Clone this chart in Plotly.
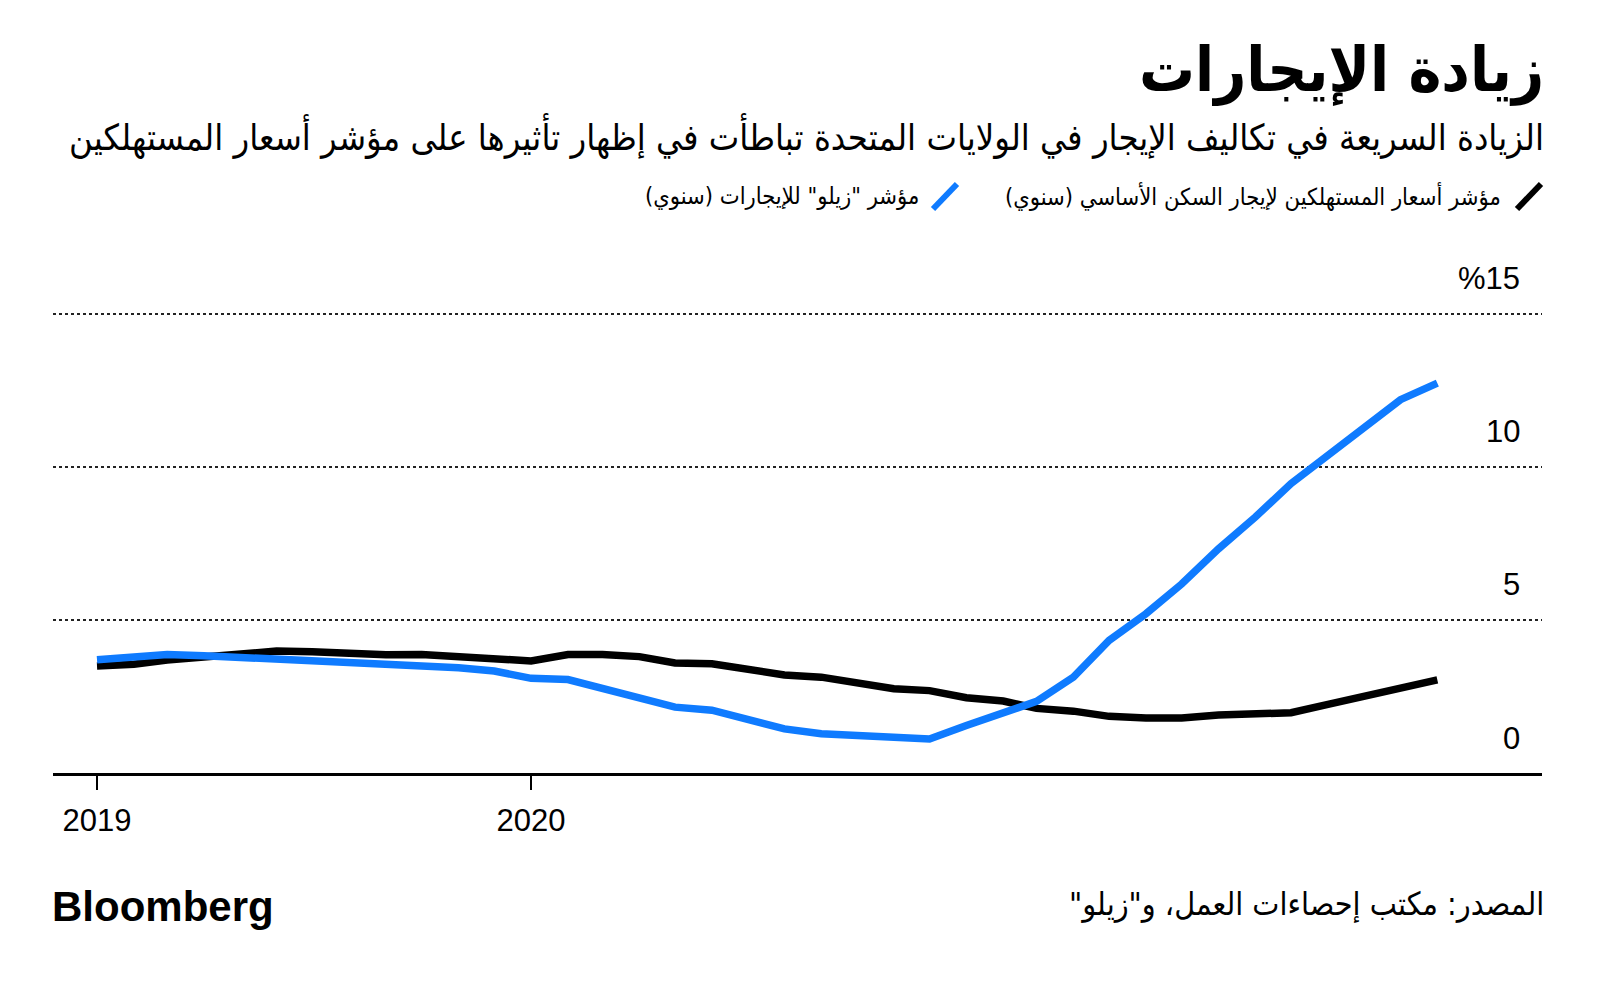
import plotly.graph_objects as go
import pandas as pd

# ---------------- data ----------------
months = pd.date_range("2019-01-01", periods=38, freq="MS")
cpi_rent = [3.49, 3.55, 3.69, 3.79, 3.89, 3.98, 3.96, 3.89, 3.86, 3.87, 3.78, 3.73,
            3.66, 3.87, 3.87, 3.80, 3.59, 3.57, 3.39, 3.20, 3.13, 2.92, 2.75, 2.69,
            2.46, 2.35, 2.11, 2.02, 1.85, 1.80, 1.80, 1.89, 1.94, 1.97, 2.24, 2.51,
            2.77, 3.04]
zillow = [3.70, 3.76, 3.87, 3.83, 3.78, 3.72, 3.67, 3.62, 3.57, 3.51, 3.44, 3.33,
          3.09, 3.05, 2.74, 2.43, 2.15, 2.05, 1.76, 1.44, 1.28, 1.22, 1.16, 1.11,
          1.55, 1.98, 2.34, 3.13, 4.33, 5.20, 6.17, 7.32, 8.36, 9.45, 10.38, 11.29,
          12.19, 12.73]
x_tick_vals = ["2019-01-01", "2020-01-01"]
x_tick_text = ["2019", "2020"]
y_tick_vals = [15, 10, 5, 0]
y_tick_text = ["%15", "10", "5", "0"]

RLM = "\u200f"
series_names = ["مؤشر أسعار المستهلكين لإيجار السكن الأساسي (سنوي)",
                "مؤشر \"زيلو\" للإيجارات (سنوي)"]
title = "زيادة الإيجارات"
subtitle = "الزيادة السريعة في تكاليف الإيجار في الولايات المتحدة تباطأت في إظهار تأثيرها على مؤشر أسعار المستهلكين"
source = "المصدر: مكتب إحصاءات العمل، و\"زيلو\""

# ---------------- layout geometry ----------------
W, H = 1600, 987
L, R = 53, 1542
T, B = 283, 773

def px(x):
    return (x - L) / (R - L)

def py(y):
    return (B - y) / (B - T)

BLACK = "#000000"
BLUE = "#0f7bff"
AR_FONT = "DejaVu Sans Condensed, DejaVu Sans, sans-serif"
NUM_FONT = "Liberation Sans, Arial, sans-serif"

fig = go.Figure()
fig.add_trace(go.Scatter(x=months, y=cpi_rent, mode="lines", name=series_names[0],
                         line=dict(color=BLACK, width=7.5), hoverinfo="skip"))
fig.add_trace(go.Scatter(x=months, y=zillow, mode="lines", name=series_names[1],
                         line=dict(color=BLUE, width=7.5), hoverinfo="skip"))

ann = []
ann.append(dict(text="<b>" + title + "</b>", x=px(1546), y=py(69), xref="paper", yref="paper",
                xanchor="right", yanchor="middle", showarrow=False,
                font=dict(family=AR_FONT, size=62, color=BLACK)))
ann.append(dict(text=subtitle, x=px(1546), y=py(136), xref="paper", yref="paper",
                xanchor="right", yanchor="middle", showarrow=False,
                font=dict(family=AR_FONT, size=36, color=BLACK)))
ann.append(dict(text=RLM + series_names[0] + RLM, x=px(1503), y=py(196), xref="paper", yref="paper",
                xanchor="right", yanchor="middle", showarrow=False,
                font=dict(family=AR_FONT, size=23.5, color=BLACK)))
ann.append(dict(text=RLM + series_names[1] + RLM, x=px(921), y=py(196), xref="paper", yref="paper",
                xanchor="right", yanchor="middle", showarrow=False,
                font=dict(family=AR_FONT, size=23.5, color=BLACK)))
ann.append(dict(text=RLM + source + RLM, x=px(1546), y=py(904), xref="paper", yref="paper",
                xanchor="right", yanchor="middle", showarrow=False,
                font=dict(family=AR_FONT, size=32, color=BLACK)))
ann.append(dict(text="<b>Bloomberg</b>", x=px(50), y=py(906), xref="paper", yref="paper",
                xanchor="left", yanchor="middle", showarrow=False,
                font=dict(family=NUM_FONT, size=42, color=BLACK)))
for v, t in zip(y_tick_vals, y_tick_text):
    ann.append(dict(text=t, x=px(1522), y=v, xref="paper", yref="y",
                    xanchor="right", yanchor="middle", yshift=35, showarrow=False,
                    font=dict(family=NUM_FONT, size=31, color=BLACK)))

shapes = [
    dict(type="line", xref="paper", yref="paper", x0=px(1517), y0=py(209), x1=px(1541), y1=py(184),
         line=dict(color=BLACK, width=6)),
    dict(type="line", xref="paper", yref="paper", x0=px(933), y0=py(209), x1=px(957), y1=py(184),
         line=dict(color=BLUE, width=6)),
]

fig.update_layout(
    width=W, height=H, autosize=False,
    margin=dict(l=L, r=W - R, t=T, b=H - B, pad=0),
    paper_bgcolor="white", plot_bgcolor="white",
    showlegend=False,
    annotations=ann, shapes=shapes,
    xaxis=dict(type="date", range=["2018-11-25", "2022-04-30"],
               tickvals=x_tick_vals, ticktext=x_tick_text,
               ticks="outside", ticklen=14, tickwidth=2, tickcolor=BLACK,
               showline=True, linewidth=3, linecolor=BLACK,
               showgrid=False, zeroline=False,
               tickfont=dict(family=NUM_FONT, size=31, color=BLACK),
               ticklabelstandoff=4, fixedrange=True),
    yaxis=dict(range=[0, 16], tickvals=[5, 10, 15], showticklabels=False,
               showgrid=True, gridcolor="#222222", gridwidth=1.5, griddash="dot",
               zeroline=False, showline=False, ticks="", fixedrange=True),
)

fig.write_html("out.html", include_plotlyjs=True, config={"displayModeBar": False})
